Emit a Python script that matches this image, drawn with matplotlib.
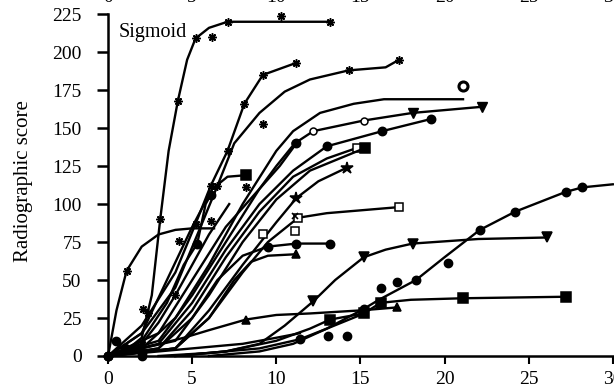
import matplotlib
matplotlib.use("Agg")
import matplotlib.pyplot as plt

plt.rcParams['font.family'] = ['Liberation Serif', 'DejaVu Serif']

# ---- data (time vs radiographic score) ----
sig_x = [0, 1, 2, 2.6, 3.1, 3.6, 4.15, 4.7, 5.2, 6, 7.1, 13.2]
sig_y = [0, 3, 12, 40, 90, 135, 168, 195, 209, 216, 220, 220]
b_x = [0, 0.5, 1.1, 2, 3, 4, 5, 6.3]
b_y = [0, 30, 56, 72, 80, 83, 84, 84]
c_x = [0, 2, 4, 5.2, 6.1, 7.1, 8.1, 9.2, 11.2]
c_y = [0, 20, 55, 87, 112, 135, 166, 185, 193]
d_x = [0, 2, 4, 5.5, 6.5, 7.5, 9, 10.5, 12, 14.3, 16.5, 17.3]
d_y = [0, 15, 45, 85, 112, 140, 160, 174, 182, 188, 190, 195]
e_x = [0, 2, 4, 6, 8, 10, 11, 12.6, 14.6, 16.4, 21.1]
e_y = [0, 5, 25, 60, 100, 135, 148, 160, 166, 169, 169]
f_x = [0, 3, 5, 7, 9, 10, 11.1, 12.2, 15.2, 18.1, 22.2]
f_y = [0, 10, 40, 75, 110, 125, 140, 148, 155, 160, 164]
g_x = [0, 3, 5, 7, 9, 11, 13, 16.3, 19.2]
g_y = [0, 8, 35, 70, 100, 122, 138, 148, 156]
h_x = [0, 3, 5, 7, 9, 11, 13, 14.8]
h_y = [0, 5, 30, 65, 95, 118, 130, 137]
i_x = [0, 4, 6, 8, 10, 12, 15.3]
i_y = [0, 10, 40, 75, 103, 122, 137]
j_x = [0, 4, 6, 8, 10, 11.2, 12.5, 14.2]
j_y = [0, 5, 30, 60, 88, 104, 115, 124]
k_x = [0, 4, 6, 8, 9.5, 11.3, 13, 17.3]
k_y = [0, 5, 25, 55, 75, 91, 94, 98]
l_x = [0, 3, 5, 6.5, 8, 9.5, 11.2, 13.2]
l_y = [0, 5, 25, 50, 66, 72, 74, 74]
m_x = [0, 4, 6, 7.5, 8.5, 9.5, 11.2]
m_y = [0, 5, 25, 50, 62, 66, 67]
n_x = [4, 7, 9, 10.5, 12.2, 13.5, 15.2, 16.5, 18.1, 22, 26.1]
n_y = [0, 3, 8, 20, 36, 50, 65, 70, 74, 77, 78]
o_x = [6, 9, 11, 13, 15.2, 16.1, 18.3, 20, 22.1, 24.2, 27.2, 28.2, 30]
o_y = [0, 3, 8, 18, 31, 37, 50, 65, 83, 95, 108, 111, 113]
p_x = [4, 7, 10, 12, 13.2, 15.2, 16.2, 18, 21.1, 27.2]
p_y = [0, 3, 10, 18, 24, 28, 35, 37, 38, 39]
q_x = [0, 2, 4.5, 6, 8.2, 10, 12, 15, 17.2]
q_y = [0, 5, 12, 17, 24, 27, 28, 30, 32]
r_x = [0, 2, 3.5, 5, 6.2, 7.1, 8.2]
r_y = [0, 15, 50, 85, 110, 118, 119]
s_x = [0, 3, 5, 7, 9, 10.2, 11.2]
s_y = [0, 15, 50, 85, 110, 125, 140]
t_x = [0, 1, 2, 3.5, 4.5, 5.3, 5.8, 6.1]
t_y = [0, 3, 10, 35, 60, 74, 100, 106]
u_x = [3, 6, 9, 11.4, 13, 15]
u_y = [0, 2, 5, 11, 18, 27]
v_x = [0, 2, 5, 8, 10, 11.4]
v_y = [0, 2, 5, 8, 12, 15]
w_x = [0, 2, 3, 4, 5, 6, 7.2]
w_y = [0, 8, 22, 40, 60, 80, 100]

dots_x = [16.2, 17.2, 20.2, 13.1, 14.2, 2, 1, 0.5]
dots_y = [45, 49, 61, 13, 13, 0, 5, 10]
stars_x = [6.2, 10.3, 9.2, 8.2, 6.1, 4.2, 2.1, 2.4]
stars_y = [210, 224, 153, 111, 89, 76, 31, 28]
ring_x = [21.1]
ring_y = [178]
osq_x = [11.1, 9.2]
osq_y = [82, 80]

x_ticks = [0, 5, 10, 15, 20, 25, 30]
y_ticks = [0, 25, 50, 75, 100, 125, 150, 175, 200, 225]

AST = (8, 2, 0)
LW = 1.7

fig = plt.figure(figsize=(6.14, 3.88), dpi=100)
ax = fig.add_axes([0.176, 0.0825, 0.822, 0.881])

def curve(x, y, marker=None, every=None, mfc='black', ms=5.5):
    ax.plot(x, y, color='black', lw=LW, marker=marker, markevery=every,
            mfc=mfc, mec='black', ms=ms, mew=1.1, clip_on=False, zorder=3)

curve(sig_x, sig_y, AST, [4, 6, 8, 10, 11], ms=6)
curve(b_x, b_y, AST, [2], ms=6)
curve(c_x, c_y, AST, [3, 4, 5, 6, 7, 8], ms=6)
curve(d_x, d_y, AST, [4, 9, 11], ms=6)
curve(e_x, e_y)
curve(f_x, f_y, 'o', [6, 7, 8], mfc='white', ms=5)
ax.plot([f_x[9], f_x[10]], [f_y[9], f_y[10]], ls='none', marker='v', color='black', ms=6.5, zorder=4)
curve(g_x, g_y, 'o', [6, 7, 8], ms=6)
curve(h_x, h_y, 's', [7], mfc='white', ms=6)
curve(i_x, i_y, 's', [6], ms=6.5)
curve(j_x, j_y, '*', [5, 7], ms=9)
curve(k_x, k_y, 's', [5, 7], mfc='white', ms=6)
curve(l_x, l_y, 'o', [0, 5, 6, 7], ms=6)
curve(m_x, m_y, '^', [6], ms=6)
curve(n_x, n_y, 'v', [4, 6, 8, 10], ms=6.5)
curve(o_x, o_y, 'o', [4, 6, 8, 9, 10, 11], ms=6)
curve(p_x, p_y, 's', [4, 5, 6, 8, 9], ms=6.5)
curve(q_x, q_y, '^', [4, 8], ms=6)
curve(r_x, r_y, 's', [6], ms=6.5)
curve(s_x, s_y, 'o', [0, 6], ms=6)
curve(t_x, t_y, 'o', [5, 7], ms=6)
curve(u_x, u_y, 'o', [3], ms=6)
curve(v_x, v_y, 'o', [0, 1], ms=6)
curve(w_x, w_y, AST, [1, 3], ms=6)

ax.plot(dots_x, dots_y, ls='none', marker='o', color='black', ms=6, clip_on=False, zorder=4)
ax.plot(stars_x, stars_y, ls='none', marker=AST, color='black', ms=6, mew=1.1, clip_on=False, zorder=4)
ax.plot(ring_x, ring_y, ls='none', marker='o', mfc='white', mec='black', mew=2.2, ms=6.5, zorder=4)
ax.plot(osq_x, osq_y, ls='none', marker='s', mfc='white', mec='black', mew=1.1, ms=6, zorder=4)
ax.plot([11.1], [92], ls='none', marker='x', color='black', ms=5, mew=1.2, zorder=4)

ax.text(0.6, 213, 'Sigmoid', fontsize=14.5, va='center', ha='left')

ax.set_xlim(0, 30)
ax.set_ylim(0, 225)
ax.set_xticks(x_ticks)
ax.set_yticks(y_ticks)
ax.spines['top'].set_visible(False)
ax.spines['right'].set_visible(False)
ax.spines['left'].set_linewidth(1.8)
ax.spines['bottom'].set_linewidth(1.8)
ax.tick_params(axis='y', direction='out', length=8, width=1.8, pad=11, labelsize=14)
ax.tick_params(axis='x', direction='out', length=6, width=1.5, pad=5, labelsize=14)
ax.set_ylabel('Radiographic score', fontsize=15)
ax.yaxis.set_label_coords(-0.1485, 0.512)

# tick labels of the panel above, cut by the top edge
for t in x_ticks:
    xf = 0.176 + 0.822 * t / 30
    fig.text(xf, 1 - 6 / 388, str(t), fontsize=14, ha='center', va='bottom')

fig.savefig('out.png', dpi=100)
